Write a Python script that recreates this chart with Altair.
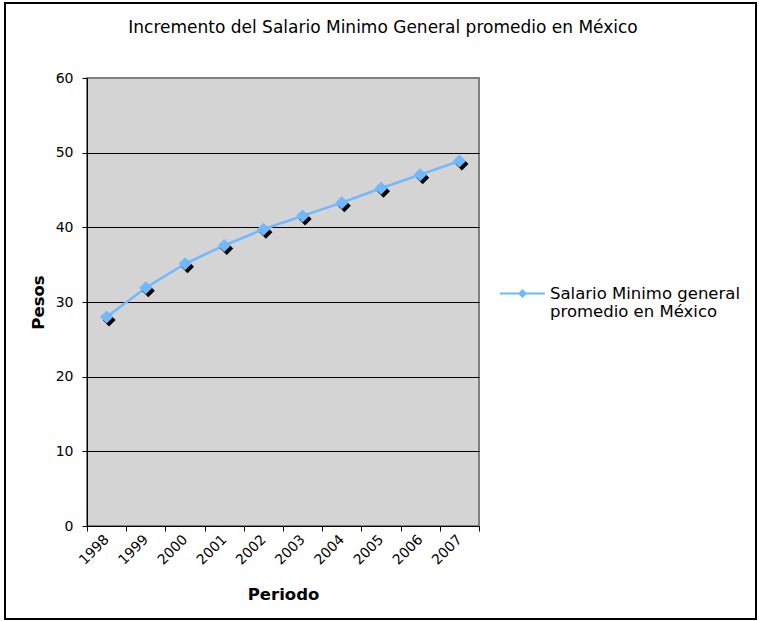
import altair as alt
import pandas as pd

# Average general minimum wage in Mexico (pesos per day)
years = ["1998", "1999", "2000", "2001", "2002", "2003", "2004", "2005", "2006", "2007"]
salario = [27.99, 31.91, 35.12, 37.57, 39.74, 41.53, 43.30, 45.24, 47.05, 48.88]
serie = "Salario Minimo general promedio en México"
y_ticks = [0, 10, 20, 30, 40, 50, 60]

df = pd.DataFrame({"Periodo": years, "Pesos": salario, "serie": serie})

FONT = "DejaVu Sans"
BLUE = "#70B8FF"

x_enc = alt.X(
    "Periodo:O",
    scale=alt.Scale(paddingInner=0, paddingOuter=0),
    axis=alt.Axis(
        title="Periodo",
        tickBand="extent",
        labelAngle=-45,
        labelAlign="right",
        labelBaseline="middle",
        labelFontSize=14,
        labelFont=FONT,
        labelColor="black",
        labelPadding=6,
        tickSize=5,
        tickColor="black",
        domainColor="black",
        titleFont=FONT,
        titleFontSize=16.5,
        titleFontWeight="bold",
        titlePadding=19,
        titleColor="black",
        grid=False,
    ),
)
y_enc = alt.Y(
    "Pesos:Q",
    scale=alt.Scale(domain=[0, 60], nice=False),
    axis=alt.Axis(
        title="Pesos",
        values=y_ticks,
        labelFontSize=14,
        labelFont=FONT,
        labelColor="black",
        labelPadding=9,
        tickSize=5,
        tickColor="black",
        domainColor="black",
        grid=True,
        gridColor={"condition": {"test": "datum.value >= 60", "value": "#808080"}, "value": "black"},
        gridOpacity=1,
        titleFont=FONT,
        titleFontSize=16.5,
        titleFontWeight="bold",
        titlePadding=9,
        titleColor="black",
    ),
)

base = alt.Chart(df)

line = base.mark_line(color=BLUE, strokeWidth=2.5).encode(x=x_enc, y=y_enc)

shadow = base.mark_point(
    shape="diamond", filled=True, color="black", size=170, opacity=1, xOffset=2.5, yOffset=3
).encode(x=x_enc, y=y_enc)

legend_symbol = (
    "M-1,-0.045L1,-0.045L1,0.045L-1,0.045Z"
    "M0,-0.2L0.2,0L0,0.2L-0.2,0Z"
)

points = base.mark_point(shape="diamond", filled=True, size=170, opacity=1).encode(
    x=x_enc,
    y=y_enc,
    color=alt.Color(
        "serie:N",
        scale=alt.Scale(range=[BLUE]),
        legend=alt.Legend(
            title=None,
            orient="none",
            legendX=413,
            legendY=193,
            symbolType=legend_symbol,
            symbolSize=2025,
            symbolStrokeWidth=0,
            labelFont=FONT,
            labelFontSize=16.5,
            labelColor="black",
            labelBaseline="middle",
            labelOffset=5,
            labelLimit=300,
            labelExpr="['Salario Minimo general', 'promedio en México']",
        ),
    ),
)

# outer chart border
frame = alt.Chart(pd.DataFrame({"k": [0]})).mark_rect(
    filled=False, stroke="black", strokeWidth=2
).encode(
    x=alt.value(-82), x2=alt.value(669), y=alt.value(-75), y2=alt.value(541)
)

chart = (
    alt.layer(line, shadow, points, frame)
    .properties(
        width=392,
        height=448,
        autosize=alt.AutoSizeParams(type="none"),
        padding={"left": 87, "top": 78, "right": 280, "bottom": 95},
        title=alt.TitleParams(
            "Incremento del Salario Minimo General promedio en México",
            anchor="middle",
            frame="group",
            dx=100,
            dy=35,
            offset=0,
            font=FONT,
            fontSize=17,
            fontWeight="normal",
            color="black",
        ),
        background="white",
    )
    .configure_view(fill="#D4D4D4", stroke="#808080", strokeWidth=2)
)

chart.save("out.html", embed_options={"renderer": "svg", "actions": False})
